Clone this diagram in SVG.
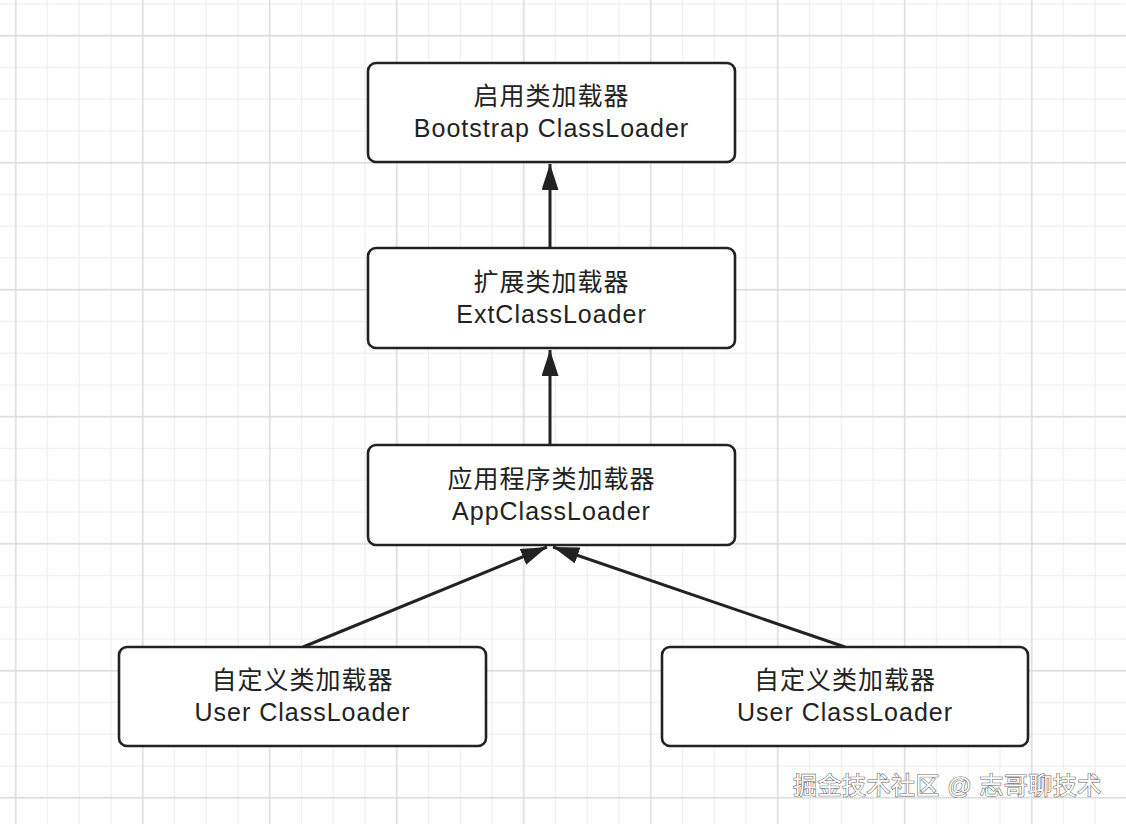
<svg xmlns="http://www.w3.org/2000/svg" width="1126" height="824" viewBox="0 0 1126 824">
  <style>
    .box { fill: #ffffff; stroke: #222222; stroke-width: 2.6; }
    .lbl { font-family: "Liberation Sans", "Noto Sans CJK SC", sans-serif; font-size: 25px; letter-spacing: 1px; fill: #222222; text-anchor: middle; }
    .edge { stroke: #222222; stroke-width: 3; fill: none; marker-end: url(#arrow); }
    .wm { font-family: "Liberation Sans", "Noto Sans CJK SC", sans-serif; font-size: 24px; letter-spacing: 0.5px; fill: #ffffff; stroke: #6a6a6a; stroke-width: 1.2; paint-order: stroke; }
  </style>
  <defs>
    <pattern id="grid" patternUnits="userSpaceOnUse" x="-0.175" y="19.825" width="127" height="127">
      <path d="M47.625 0V127M79.375 0V127M111.125 0V127M0 47.625H127M0 79.375H127M0 111.125H127" stroke="#efefef" stroke-width="1.2" fill="none"/>
      <path d="M15.875 0V127M0 15.875H127" stroke="#dddddd" stroke-width="1.6" fill="none"/>
    </pattern>
    <marker id="arrow" markerUnits="userSpaceOnUse" markerWidth="27" markerHeight="18" refX="26" refY="8.5" orient="auto">
      <path d="M0 0L26 8.5L0 17Z" fill="#222222"/>
    </marker>
  </defs>
  <rect width="1126" height="824" fill="#ffffff"/>
  <rect width="1126" height="824" fill="url(#grid)"/>

  <g id="connectors">
    <line class="edge" x1="550" y1="248" x2="550" y2="164"/>
    <line class="edge" x1="550" y1="445" x2="550" y2="350"/>
    <line class="edge" x1="303" y1="647" x2="547" y2="547"/>
    <line class="edge" x1="845" y1="647" x2="553" y2="547"/>
  </g>

  <g id="bootstrap">
    <rect class="box" x="368" y="63" width="367" height="99" rx="8"/>
    <text class="lbl" x="551.5" y="105">启用类加载器</text>
    <text class="lbl" x="551.5" y="137">Bootstrap ClassLoader</text>
  </g>
  <g id="ext">
    <rect class="box" x="368" y="248" width="367" height="100" rx="8"/>
    <text class="lbl" x="551.5" y="291">扩展类加载器</text>
    <text class="lbl" x="551.5" y="323">ExtClassLoader</text>
  </g>
  <g id="app">
    <rect class="box" x="368" y="445" width="367" height="100" rx="8"/>
    <text class="lbl" x="551.5" y="488">应用程序类加载器</text>
    <text class="lbl" x="551.5" y="520">AppClassLoader</text>
  </g>
  <g id="user1">
    <rect class="box" x="119" y="647" width="367" height="99" rx="8"/>
    <text class="lbl" x="302.5" y="689">自定义类加载器</text>
    <text class="lbl" x="302.5" y="721">User ClassLoader</text>
  </g>
  <g id="user2">
    <rect class="box" x="662" y="647" width="366" height="99" rx="8"/>
    <text class="lbl" x="845" y="689">自定义类加载器</text>
    <text class="lbl" x="845" y="721">User ClassLoader</text>
  </g>

  <text class="wm" x="793" y="794">掘金技术社区 @ 志哥聊技术</text>
</svg>
